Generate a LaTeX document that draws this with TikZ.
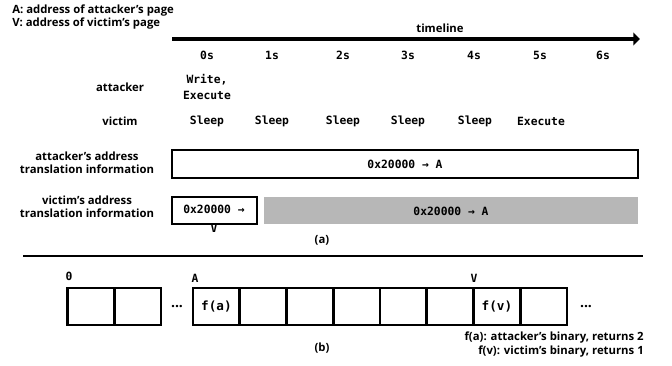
\documentclass[tikz,border=0pt]{standalone}
\usepackage{fontspec}
\setmainfont{Open Sans}
\setmonofont{DejaVu Sans Mono}
\usetikzlibrary{arrows.meta}
\definecolor{sleepgray}{RGB}{183,183,183}
\tikzset{
  lbl/.style={font=\fontsize{8.5}{10}\selectfont\bfseries, inner sep=0.75pt, align=center},
  code/.style={font=\fontsize{8.5}{10}\selectfont\ttfamily\bfseries, inner sep=0.75pt, align=center},
  box/.style={line width=2pt},
  cell/.style={draw, line width=2pt, minimum width=35pt, minimum height=27.75pt, inner sep=0pt, outer sep=0pt, font=\fontsize{9.5}{10}\selectfont\ttfamily\bfseries},
  gap/.style={font=\fontsize{10.5}{10}\selectfont\bfseries, inner sep=0.75pt},
}
\begin{document}
\begin{tikzpicture}[x=0.75pt,y=0.75pt,yscale=-1,xscale=1]
    \useasboundingbox (0,0) rectangle (672,366);
    % Text Node
    \node[lbl, anchor=west] (keya) at (11,11) {A: address of attacker’s page};
    % Text Node
    \node[lbl, anchor=west] (keyv) at (11,24) {V: address of victim’s page};
    % Timeline
    \coordinate (tstart) at (172,39);
    \coordinate (tend) at (640,39);
    \draw[line width=3.6pt, -{Triangle[length=5pt,width=9.5pt]}] (tstart) -- (tend);
    \node[lbl] (timeline) at (440,28) {timeline};
    \foreach \t/\x in {0/207,1/272,2/343,3/408,4/474,5/540,6/603}
      \node[code] (t\t) at (\x,55) {\t s};
    % Text Node
    \node[lbl] (attacker) at (120,87) {attacker};
    \node[code, font=\fontsize{8.5}{12.5}\selectfont\ttfamily\bfseries] (awrite) at (207,87) {Write,\\Execute};
    % Text Node
    \node[lbl] (victim) at (120,121) {victim};
    \foreach \x [count=\i] in {207,272,343,408,475}
      \node[code] (sleep\i) at (\x,121) {Sleep};
    \node[code] (vexec) at (541,121) {Execute};
    % Address translation rows
    \node[lbl] (atlabel) at (87,163) {attacker’s address\\translation information};
    \node[code] (atrans) at (405,164) {0x20000 → A};
    \draw[box] (172,150) rectangle (638,178);
    \node[lbl] (vtlabel) at (87,207) {victim’s address\\translation information};
    \fill[sleepgray] (264,197) rectangle (638,224);
    \node[code] (vtrans) at (451,211) {0x20000 → A};
    \node[code, font=\fontsize{8.5}{14}\selectfont\ttfamily\bfseries] (vtransv) at (214,219) {0x20000 →\\V};
    \draw[box] (172,197) rectangle (257,224);
    % Text Node
    \node[lbl] (capa) at (322,240) {(a)};
    % Separator
    \coordinate (sepl) at (23,256);
    \coordinate (sepr) at (643,256);
    \draw[line width=2.2pt] (sepl) -- (sepr);
    % Memory pages
    \node[code] (zero) at (69,276) {0};
    \node[code] (addra) at (195,278) {A};
    \node[code] (addrv) at (474,278) {V};
    \foreach \x [count=\i] in {90.5,137.5}
      \node[cell] (p\i) at (\x,306.5) {};
    \node[gap] (dotsl) at (177,307) {...};
    \foreach \k/\txt in {0/f(a),1/,2/,3/,4/,5/,6/f(v),7/}
      \node[cell] (q\k) at (216.4+46.75*\k,306.5) {\txt};
    \node[gap] (dotsr) at (586,307) {...};
    % Text Node
    \node[lbl] (capb) at (322,348) {(b)};
    \node[lbl, anchor=east] (fa) at (645,338) {f(a): attacker’s binary, returns 2};
    \node[lbl, anchor=east] (fv) at (645,352) {f(v): victim’s binary, returns 1};
\end{tikzpicture}
\end{document}
